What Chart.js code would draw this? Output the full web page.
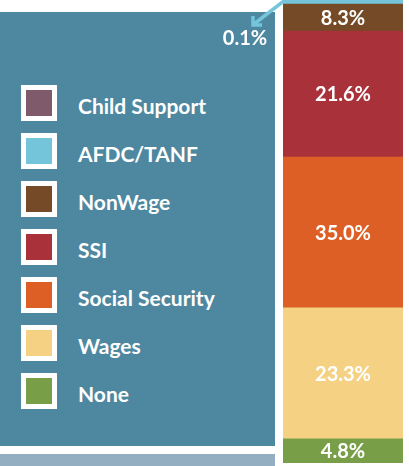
<!DOCTYPE html>
<html>
<head>
<meta charset="utf-8">
<script src="https://cdn.jsdelivr.net/npm/chart.js@4"></script>
<style>
  html, body { margin: 0; padding: 0; background: #ffffff; width: 409px; height: 466px; overflow: hidden; font-family: Lato, sans-serif; }
  #panel { position: absolute; left: 0; top: 12px; width: 275px; height: 434px; background: #4e87a0; }
  #strip { position: absolute; left: 0; top: 454px; width: 275px; height: 12px; background: #93aec0; }
  #legend { position: absolute; left: 21px; top: 85px; margin: 0; padding: 0; list-style: none; }
  #legend li { display: flex; align-items: center; height: 36px; margin-bottom: 12px; }
  #legend .box { width: 26px; height: 26px; border: 5px solid #ffffff; box-sizing: content-box; }
  #legend .txt { margin-left: 21px; color: #ffffff; font-weight: bold; font-size: 21px; position: relative; top: 2px; }
  #wrap { position: absolute; left: 0; top: 0; width: 409px; height: 466px; pointer-events: none; }
</style>
</head>
<body>
<div id="panel"></div>
<div id="strip"></div>
<ul id="legend"></ul>
<div id="wrap"><canvas id="c"></canvas></div>
<script>
// Income source categories, bottom of the column to the top
const categories = ['None', 'Wages', 'Social Security', 'SSI', 'NonWage', 'AFDC/TANF', 'Child Support'];
// Segment sizes as drawn in the picture (share of the visible column height)
const segmentSize = [5.2, 28.3, 32.6, 27.2, 5.8, 1.5, 6.0];
// Percentage labels printed on the segments
const pctLabels = ['4.8%', '23.3%', '35.0%', '21.6%', '8.3%', '0.1%', ''];
const colors = ['#789f48', '#f4d183', '#dd5f26', '#a9313a', '#744b26', '#74c5da', '#7e5a6b'];

// HTML legend, top to bottom
const legendEl = document.getElementById('legend');
for (let i = categories.length - 1; i >= 0; i--) {
  const li = document.createElement('li');
  const b = document.createElement('span'); b.className = 'box'; b.style.background = colors[i];
  const t = document.createElement('span'); t.className = 'txt'; t.textContent = categories[i];
  li.appendChild(b); li.appendChild(t); legendEl.appendChild(li);
}

const labelPlugin = {
  id: 'segLabels',
  afterDatasetsDraw(chart) {
    const ctx = chart.ctx;
    ctx.save();
    ctx.font = 'bold 20px Lato, sans-serif';
    ctx.fillStyle = '#ffffff';
    ctx.textAlign = 'center';
    ctx.textBaseline = 'middle';
    chart.data.datasets.forEach((ds, i) => {
      const el = chart.getDatasetMeta(i).data[0];
      if (!el) return;
      const txt = pctLabels[i];
      if (!txt) return;
      if (categories[i] === 'AFDC/TANF') {
        // small segment: label outside with an arrow
        const left = el.x - el.width / 2;
        const sx = left + 2, sy = Math.max(el.y, 0);
        const tx = left - 30, ty = sy + 25;
        ctx.strokeStyle = colors[i];
        ctx.lineWidth = 3.5;
        ctx.lineCap = 'butt';
        ctx.beginPath(); ctx.moveTo(sx + 4, sy - 3); ctx.lineTo(tx + 1, ty - 1); ctx.stroke();
        ctx.beginPath(); ctx.moveTo(tx, ty - 9); ctx.lineTo(tx, ty); ctx.lineTo(tx + 9, ty); ctx.stroke();
        ctx.fillStyle = '#ffffff';
        ctx.fillText(txt, left - 38, ty + 14);
        return;
      }
      ctx.fillText(txt, el.x, (el.y + el.base) / 2 + 1);
    });
    ctx.restore();
  }
};

new Chart(document.getElementById('c'), {
  type: 'bar',
  data: {
    labels: ['Income source'],
    datasets: categories.map((c, i) => ({
      label: c,
      data: [segmentSize[i]],
      backgroundColor: colors[i],
      borderWidth: 0,
      barPercentage: 1,
      categoryPercentage: 1
    }))
  },
  options: {
    responsive: true,
    maintainAspectRatio: false,
    animation: false,
    layout: { padding: { left: 283, right: 6, top: 0, bottom: 3 } },
    plugins: { legend: { display: false }, tooltip: { enabled: false } },
    scales: {
      x: { stacked: true, display: false },
      y: { stacked: true, display: false, min: 0, max: 100 }
    }
  },
  plugins: [labelPlugin]
});
</script>
</body>
</html>
